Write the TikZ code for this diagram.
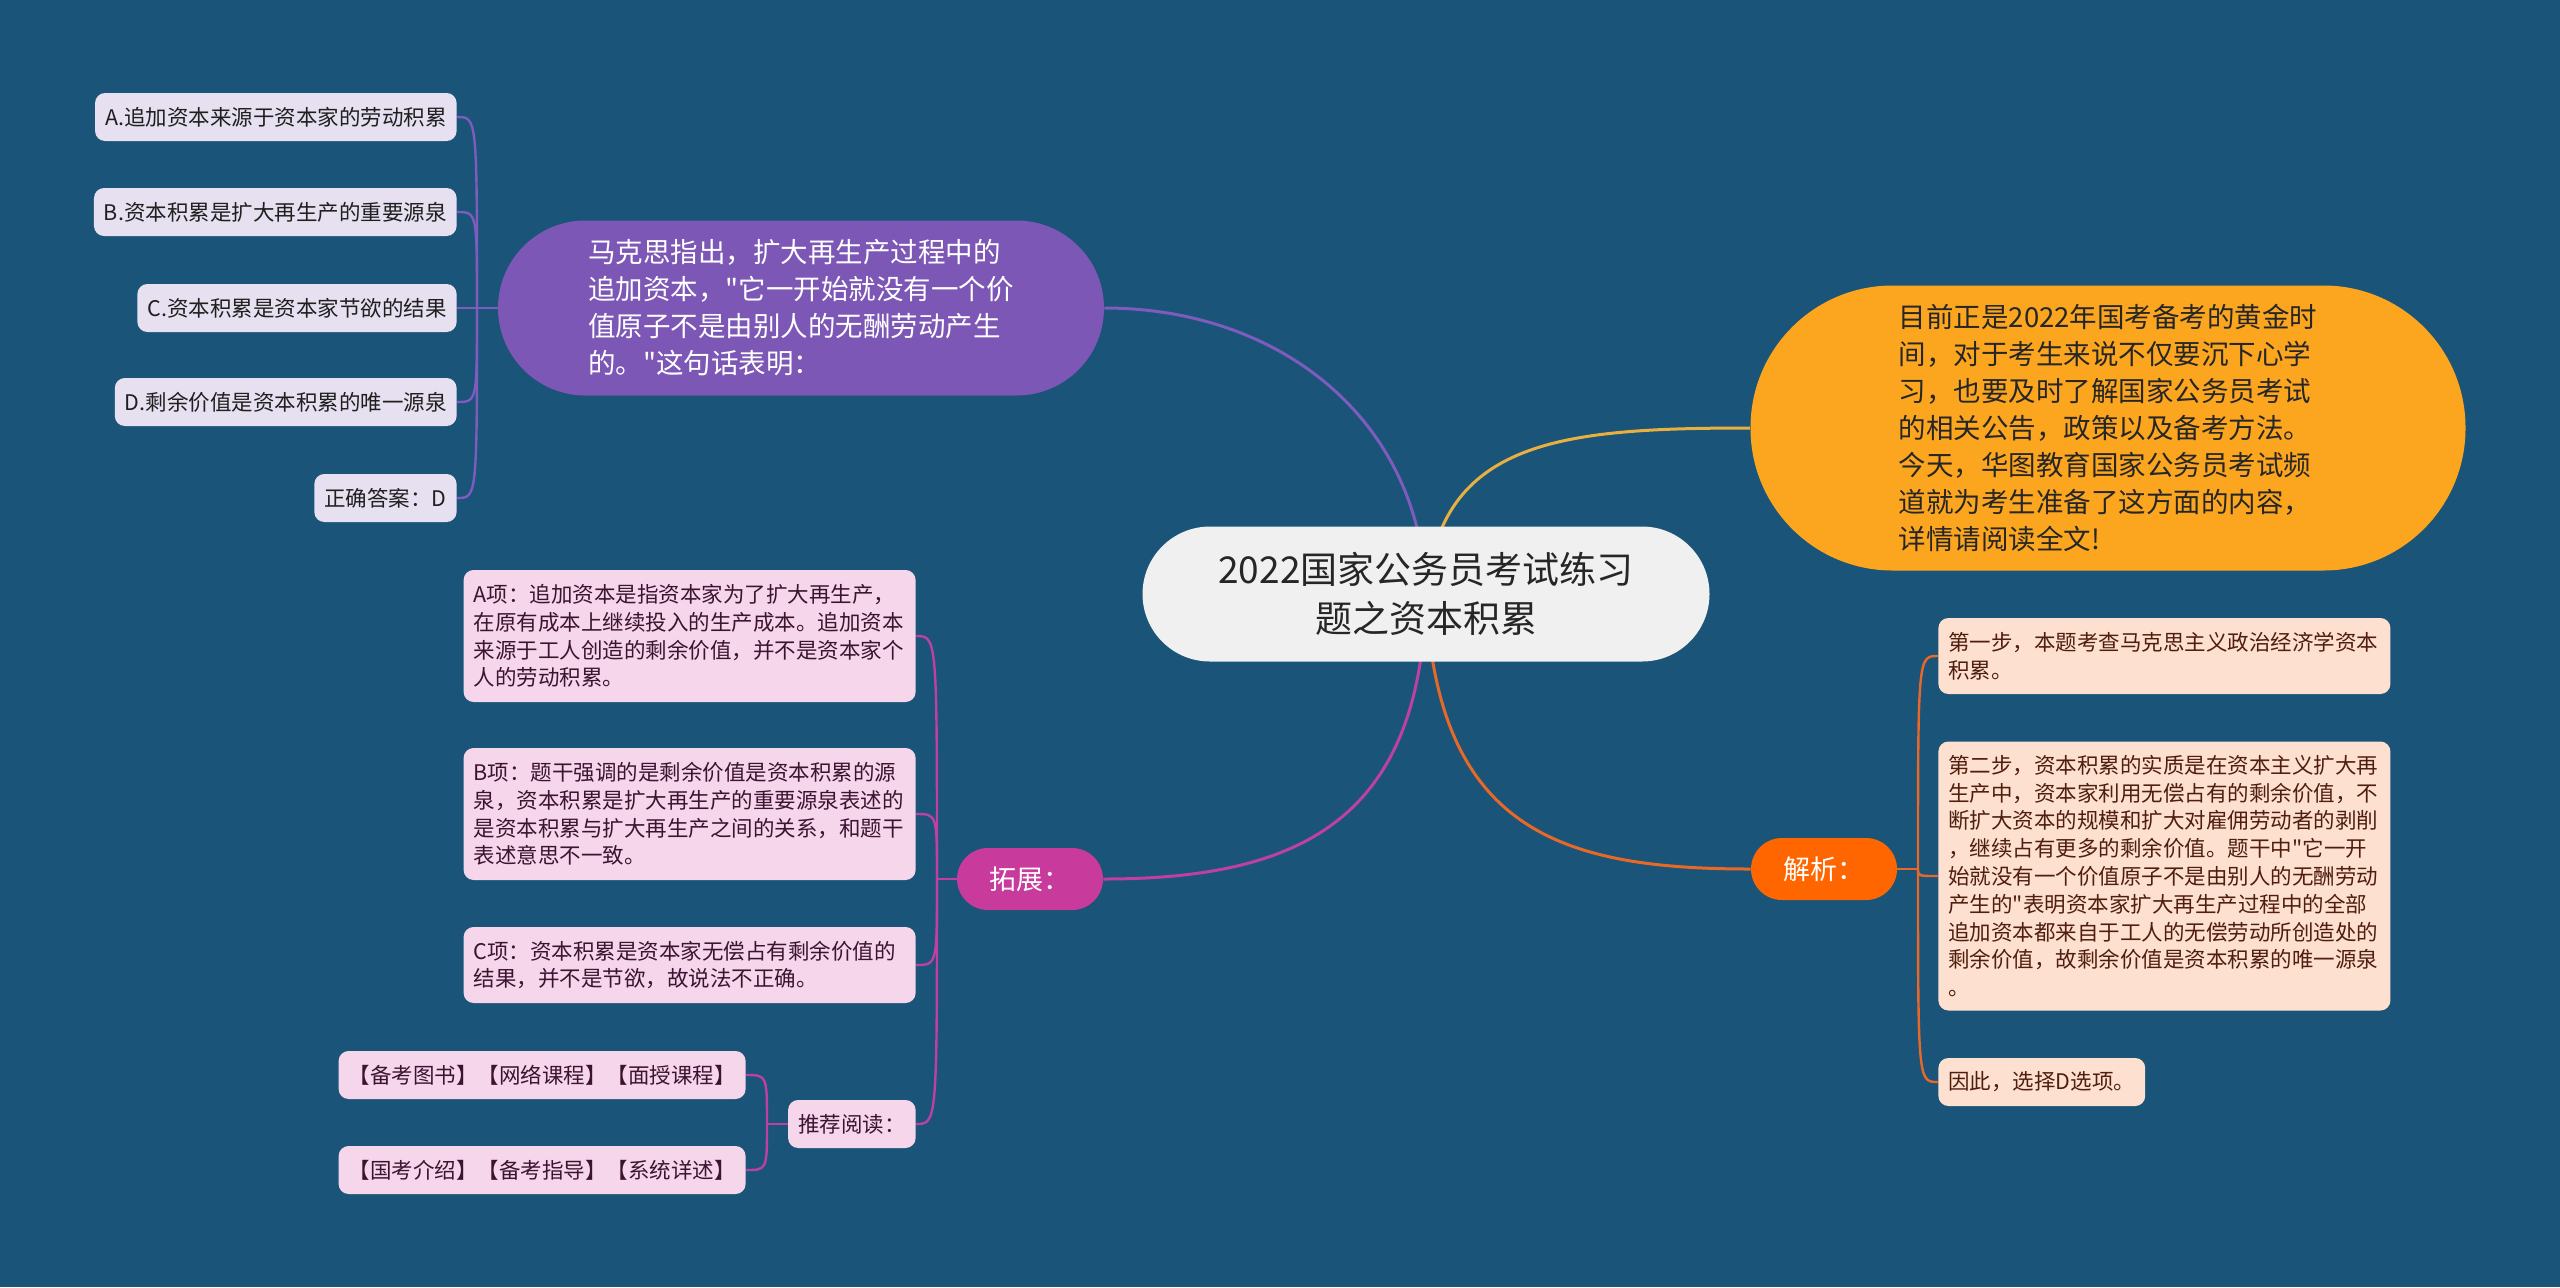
\documentclass[tikz,border=0pt]{standalone}
\usepackage{fontspec}
\newfontfamily\cjkfont{Noto Sans CJK SC}
\usetikzlibrary{backgrounds}

\definecolor{bgblue}{RGB}{26,84,120}
\definecolor{rootfill}{RGB}{240,240,240}
\definecolor{purpnode}{RGB}{125,87,181}
\definecolor{purpline}{RGB}{126,92,190}
\definecolor{purpleaf}{RGB}{230,224,240}
\definecolor{orngnode}{RGB}{252,166,32}
\definecolor{orngline}{RGB}{232,176,64}
\definecolor{magnode}{RGB}{200,58,156}
\definecolor{magline}{RGB}{190,64,160}
\definecolor{magleaf}{RGB}{245,214,234}
\definecolor{rednode}{RGB}{255,102,0}
\definecolor{redline}{RGB}{232,104,40}
\definecolor{redleaf}{RGB}{253,224,208}

\begin{document}
\cjkfont
\begin{tikzpicture}[x=0.5pt, y=-0.5pt,
    every node/.style={inner sep=0pt},
    bubble/.style={align=left, font=\cjkfont\fontsize{13.75pt}{18.5pt}\selectfont},
    tag/.style={minimum width=73pt, minimum height=31pt, rounded corners=15.5pt,
        text=white, font=\cjkfont\fontsize{13.5pt}{16pt}\selectfont},
    leaf/.style={rounded corners=5pt, inner xsep=5pt, minimum height=24pt,
        align=left, font=\cjkfont\fontsize{10.75pt}{13.9pt}\selectfont},
    branch/.style={line width=1.5pt},
    twig/.style={line width=1.2pt}]

    \useasboundingbox (0,0) rectangle (2560,1287);

    % Central topic
        \node[fill=rootfill, text=black!85, minimum width=283.5pt, minimum height=67.5pt,
            rounded corners=33.75pt, align=center, font=\cjkfont\fontsize{18.5pt}{24.5pt}\selectfont]
            (root) at (1426,594) {2022国家公务员考试练习\\题之资本积累};

    % TOP LEFT: question
        \node[bubble, fill=purpnode, text=white, minimum width=303pt, minimum height=87.5pt,
            rounded corners=43.75pt] (marx) at (801,308)
            {马克思指出，扩大再生产过程中的\\追加资本，"它一开始就没有一个价\\值原子不是由别人的无酬劳动产生\\的。"这句话表明：};
        \foreach \name/\y/\txt in {qa/117/{A.追加资本来源于资本家的劳动积累},
                                   qb/212/{B.资本积累是扩大再生产的重要源泉},
                                   qc/308/{C.资本积累是资本家节欲的结果},
                                   qd/402/{D.剩余价值是资本积累的唯一源泉},
                                   qe/498/{正确答案：D}}
            \node[leaf, fill=purpleaf, text=black!88, anchor=east] (\name) at (457,\y) {\txt};
        \coordinate (qspine) at (477,308);

    % TOP RIGHT: intro
        \node[bubble, fill=orngnode, text=black!85, minimum width=357.5pt, minimum height=142.5pt,
            rounded corners=71pt] (intro) at (2108,428)
            {目前正是2022年国考备考的黄金时\\间，对于考生来说不仅要沉下心学\\习，也要及时了解国家公务员考试\\的相关公告，政策以及备考方法。\\今天，华图教育国家公务员考试频\\道就为考生准备了这方面的内容，\\详情请阅读全文!};

    % BOTTOM LEFT: extension
        \node[tag, fill=magnode] (ext) at (1030,879) {拓展：};
        \node[leaf, fill=magleaf, text={rgb,255:red,60;green,20;blue,50}, text width=216pt,
            minimum height=66pt, anchor=east] (ea) at (916,636)
            {A项：追加资本是指资本家为了扩大再生产，\\在原有成本上继续投入的生产成本。追加资本\\来源于工人创造的剩余价值，并不是资本家个\\人的劳动积累。};
        \node[leaf, fill=magleaf, text={rgb,255:red,60;green,20;blue,50}, text width=216pt,
            minimum height=66pt, anchor=east] (eb) at (916,814)
            {B项：题干强调的是剩余价值是资本积累的源\\泉，资本积累是扩大再生产的重要源泉表述的\\是资本积累与扩大再生产之间的关系，和题干\\表述意思不一致。};
        \node[leaf, fill=magleaf, text={rgb,255:red,60;green,20;blue,50}, text width=216pt,
            minimum height=38pt, anchor=east] (ec) at (916,965)
            {C项：资本积累是资本家无偿占有剩余价值的\\结果，并不是节欲，故说法不正确。};
        \node[leaf, fill=magleaf, text={rgb,255:red,60;green,20;blue,50}, anchor=east] (read) at (916,1124) {推荐阅读：};
        \node[leaf, fill=magleaf, text={rgb,255:red,60;green,20;blue,50}, anchor=east] (ra) at (746,1075) {【备考图书】【网络课程】【面授课程】};
        \node[leaf, fill=magleaf, text={rgb,255:red,60;green,20;blue,50}, anchor=east] (rb) at (746,1170) {【国考介绍】【备考指导】【系统详述】};
        \coordinate (espine) at (937,879);
        \coordinate (rspine) at (767,1124);

    % BOTTOM RIGHT: analysis
        \node[tag, fill=rednode] (ana) at (1824,869) {解析：};
        \node[leaf, fill=redleaf, text={rgb,255:red,80;green,30;blue,15}, text width=216pt,
            minimum height=38pt, anchor=west] (sa) at (1938,656)
            {第一步，本题考查马克思主义政治经济学资本\\积累。};
        \node[leaf, fill=redleaf, text={rgb,255:red,80;green,30;blue,15}, text width=216pt,
            minimum height=134.5pt, anchor=west] (sb) at (1938,876)
            {第二步，资本积累的实质是在资本主义扩大再\\生产中，资本家利用无偿占有的剩余价值，不\\断扩大资本的规模和扩大对雇佣劳动者的剥削\\，继续占有更多的剩余价值。题干中"它一开\\始就没有一个价值原子不是由别人的无酬劳动\\产生的"表明资本家扩大再生产过程中的全部\\追加资本都来自于工人的无偿劳动所创造处的\\剩余价值，故剩余价值是资本积累的唯一源泉\\。};
        \node[leaf, fill=redleaf, text={rgb,255:red,80;green,30;blue,15}, anchor=west] (sc) at (1938,1082) {因此，选择D选项。};
        \coordinate (sspine) at (1918,869);

    % Connectors behind the nodes
    \begin{pgfonlayer}{background}
        \fill[bgblue] (0,0) rectangle (2560,1287);
        \draw[branch, purpline] (root.center) .. controls (1421,420) and (1280,308) .. (marx.east);
        \draw[branch, orngline] (root.center) .. controls (1440,440) and (1560,428) .. (intro.west);
        \draw[branch, magline] (root.center) .. controls (1421,820) and (1300,879) .. (ext.east);
        \draw[branch, redline] (root.center) .. controls (1436,830) and (1560,869) .. (ana.west);
        % question options
        \draw[twig, purpline] (marx.west) -- (qspine);
        \foreach \name in {qa,qb,qc,qd,qe}
            \draw[twig, purpline] (qspine) .. controls (qspine |- \name.east) .. (\name.east);
        % extension items
        \draw[twig, magline] (ext.west) -- (espine);
        \foreach \name in {ea,eb,ec,read}
            \draw[twig, magline] (espine) .. controls (espine |- \name.east) .. (\name.east);
        \draw[twig, magline] (read.west) -- (rspine);
        \foreach \name in {ra,rb}
            \draw[twig, magline] (rspine) .. controls (rspine |- \name.east) .. (\name.east);
        % analysis steps
        \draw[twig, redline] (ana.east) -- (sspine);
        \foreach \name in {sa,sb,sc}
            \draw[twig, redline] (sspine) .. controls (sspine |- \name.west) .. (\name.west);
    \end{pgfonlayer}
\end{tikzpicture}
\end{document}
